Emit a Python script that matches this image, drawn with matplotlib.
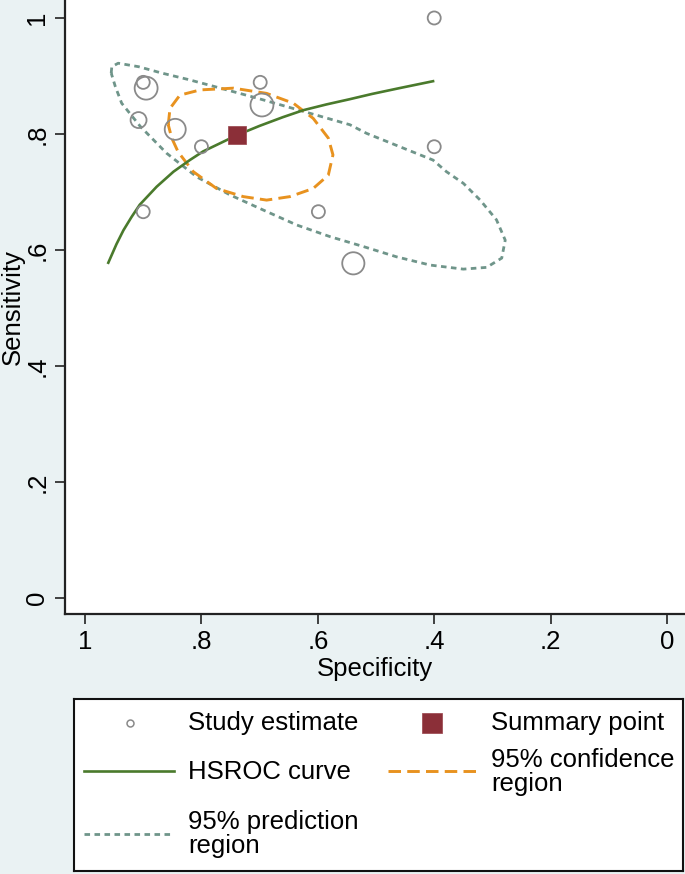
import matplotlib
matplotlib.use("Agg")
import matplotlib.pyplot as plt

plt.rcParams['font.family'] = ['Liberation Sans', 'DejaVu Sans']
plt.rcParams['lines.scale_dashes'] = False

# ---- data ----
study_spec = [0.400, 0.900, 0.895, 0.699, 0.696, 0.908, 0.845, 0.800, 0.400, 0.900, 0.599, 0.539]
study_sens = [1.000, 0.889, 0.879, 0.889, 0.850, 0.824, 0.808, 0.778, 0.778, 0.666, 0.666, 0.577]
study_weight = [1.0, 1.0, 3.1, 1.0, 3.1, 1.5, 2.6, 1.0, 1.0, 1.0, 1.0, 2.9]

summary_spec = [0.739]
summary_sens = [0.798]

hsroc_spec = [0.960, 0.946, 0.934, 0.920, 0.906, 0.877, 0.848, 0.820, 0.797, 0.770,
              0.739, 0.700, 0.660, 0.625, 0.585, 0.545, 0.507, 0.460, 0.402]
hsroc_sens = [0.578, 0.610, 0.634, 0.657, 0.678, 0.709, 0.735, 0.755, 0.770, 0.783,
              0.798, 0.814, 0.829, 0.841, 0.851, 0.860, 0.869, 0.879, 0.891]

conf_spec = [0.857, 0.854, 0.837, 0.802, 0.745, 0.688, 0.642, 0.608, 0.582, 0.574,
             0.582, 0.608, 0.648, 0.688, 0.728, 0.774, 0.814, 0.840, 0.851, 0.857]
conf_sens = [0.816, 0.844, 0.867, 0.876, 0.879, 0.870, 0.853, 0.827, 0.793, 0.764,
             0.729, 0.706, 0.692, 0.686, 0.692, 0.706, 0.735, 0.769, 0.793, 0.816]

pred_spec = [0.955, 0.954, 0.943, 0.908, 0.868, 0.823, 0.782, 0.705, 0.625, 0.545,
             0.516, 0.459, 0.402, 0.379, 0.350, 0.321, 0.293, 0.278, 0.284, 0.310,
             0.350, 0.407, 0.464, 0.522, 0.579, 0.636, 0.694, 0.751, 0.808, 0.860,
             0.905, 0.937, 0.948, 0.955]
pred_sens = [0.905, 0.916, 0.922, 0.916, 0.905, 0.894, 0.883, 0.862, 0.839, 0.816,
             0.801, 0.778, 0.755, 0.735, 0.715, 0.686, 0.652, 0.617, 0.586, 0.570,
             0.567, 0.574, 0.588, 0.606, 0.623, 0.643, 0.669, 0.695, 0.726, 0.767,
             0.813, 0.853, 0.882, 0.905]

tick_vals = [1, 0.8, 0.6, 0.4, 0.2, 0]
tick_labels = ['1', '.8', '.6', '.4', '.2', '0']

legend_labels = ['Study estimate', 'Summary point', 'HSROC curve',
                 '95% confidence\nregion', '95% prediction\nregion']

# ---- style ----
BG = '#eaf2f3'
C_STUDY = '#8a8a8a'
C_SUM = '#8b2f38'
C_HSROC = '#4a7a2c'
C_CONF = '#e8921f'
C_PRED = '#6f958a'
FS = 18.5
W, H = 685, 874

fig = plt.figure(figsize=(W / 100, H / 100), dpi=100, facecolor=BG)
ax = fig.add_axes([65 / W, 1 - 614 / H, 620 / W, 614 / H])
ax.set_facecolor('white')

ax.plot(pred_spec, pred_sens, color=C_PRED, lw=2.0, linestyle=(0, (4.0, 3.2)),
        solid_joinstyle='round', zorder=2)
ax.plot(conf_spec, conf_sens, color=C_CONF, lw=2.1, linestyle=(0, (9.0, 4.5)),
        solid_joinstyle='round', zorder=3)
ax.plot(hsroc_spec, hsroc_sens, color=C_HSROC, lw=1.9, zorder=4)
ax.scatter(study_spec, study_sens, s=[88 * w for w in study_weight], facecolors='none',
           edgecolors=C_STUDY, linewidths=1.3, zorder=5)
ax.plot(summary_spec, summary_sens, marker='s', markersize=13.5, color=C_SUM,
        markeredgecolor='#a05058', markeredgewidth=0.6, linestyle='none', zorder=6)

ax.set_xlim(1.0344, -0.0309)
ax.set_ylim(-0.0276, 1.031)
ax.set_xticks(tick_vals)
ax.set_xticklabels(tick_labels)
ax.set_yticks(tick_vals)
ax.set_yticklabels(tick_labels, rotation=90, va='center')
ax.tick_params(axis='both', length=7.2, width=1.2, labelsize=FS, color='#222222')
ax.tick_params(axis='x', pad=4.5)
ax.tick_params(axis='y', pad=4.0)
for s in ['top', 'right']:
    ax.spines[s].set_visible(False)
for s in ['left', 'bottom']:
    ax.spines[s].set_linewidth(1.6)
    ax.spines[s].set_color('#222222')

fig.text(375 / W, 1 - 669 / H, 'Specificity', fontsize=FS, ha='center', va='center')
fig.text(13 / W, 1 - 307 / H, 'Sensitivity', fontsize=FS, ha='center', va='center', rotation=90)

# ---- legend (manual, Stata-like) ----
lx0, lx1, ly0, ly1 = 74, 683, 699, 871
lg = fig.add_axes([lx0 / W, 1 - ly1 / H, (lx1 - lx0) / W, (ly1 - ly0) / H])
lg.set_xlim(lx0, lx1)
lg.set_ylim(ly1, ly0)
lg.set_xticks([])
lg.set_yticks([])
lg.set_facecolor('white')
for s in lg.spines.values():
    s.set_linewidth(1.5)
    s.set_color('#111111')

lg.plot([130], [723], marker='o', markersize=5, markerfacecolor='none',
        markeredgecolor=C_STUDY, markeredgewidth=1.1)
lg.text(188, 723, legend_labels[0], fontsize=FS, va='center', ha='left')
lg.plot([432], [723], marker='s', markersize=14, color=C_SUM, markeredgecolor='#a05058',
        markeredgewidth=0.6)
lg.text(491, 723, legend_labels[1], fontsize=FS, va='center', ha='left')
lg.plot([84, 174], [771, 771], color=C_HSROC, lw=1.9)
lg.text(188, 772, legend_labels[2], fontsize=FS, va='center', ha='left')
lg.plot([388, 478], [771, 771], color=C_CONF, lw=2.1, linestyle=(0, (9.0, 4.5)))
lg.text(491, 772, legend_labels[3], fontsize=FS, va='center', ha='left', linespacing=0.95)
lg.plot([84, 174], [834, 834], color=C_PRED, lw=2.0, linestyle=(0, (4.0, 3.2)))
lg.text(188, 834, legend_labels[4], fontsize=FS, va='center', ha='left', linespacing=0.95)

fig.savefig('out.png', dpi=100, facecolor=BG)
